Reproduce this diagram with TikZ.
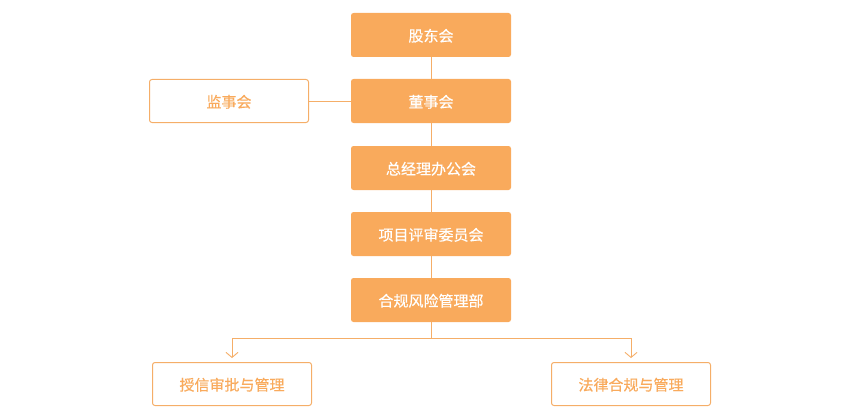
\documentclass[tikz,border=0pt]{standalone}
\usepackage{fontspec}
\usepackage{xcolor}
\usepackage{tikz}
\usetikzlibrary{arrows.meta,calc,positioning}
\newfontfamily\cjk[FakeBold=0.4]{Noto Sans CJK SC}
\definecolor{boxorange}{HTML}{F9AA5C}
\definecolor{lineorange}{HTML}{F5AE68}
\tikzset{
  mainbox/.style={draw=none,fill=boxorange,rounded corners=2.5pt,minimum width=160pt,minimum height=44pt,inner sep=0pt,text height=13pt,text depth=0pt,text=white,font=\cjk\fontsize{15}{18}\selectfont},
  sidebox/.style={draw=lineorange,line width=1pt,fill=white,rounded corners=2.5pt,minimum width=159pt,minimum height=43pt,inner sep=0pt,text height=13pt,text depth=0pt,text=boxorange,font=\cjk\fontsize{15}{18}\selectfont},
  link/.style={draw=lineorange,line width=0.9pt},
  downarrow/.style={-{Straight Barb[length=5pt,width=12pt,line width=0.9pt]},draw=lineorange,line width=0.9pt,shorten >=4pt}
}
\begin{document}
\begin{tikzpicture}[x=1pt,y=-1pt]
  \useasboundingbox (0,0) rectangle (860,420);
  % main chain
  \node[mainbox] (gdh) at (431,35) {股东会};
  \node[mainbox] (dsh) at (431,101) {董事会};
  \node[mainbox] (zjl) at (431,168) {总经理办公会};
  \node[mainbox] (xmps) at (431,234) {项目评审委员会};
  \node[mainbox] (hgfx) at (431,300) {合规风险管理部};
  % side and bottom
  \node[sidebox] (jsh) at (229,101) {监事会};
  \node[sidebox] (sxsp) at (232,384) {授信审批与管理};
  \node[sidebox] (flhg) at (631,384) {法律合规与管理};
  \coordinate (hub) at (431,338);
  \draw[link] (gdh) -- (dsh);
  \draw[link] (dsh) -- (zjl);
  \draw[link] (zjl) -- (xmps);
  \draw[link] (xmps) -- (hgfx);
  \draw[link] (jsh) -- (dsh);
  \draw[link] (hgfx) -- (hub);
  \draw[downarrow] (hub) -| (sxsp.north);
  \draw[downarrow] (hub) -| (flhg.north);
\end{tikzpicture}
\end{document}
